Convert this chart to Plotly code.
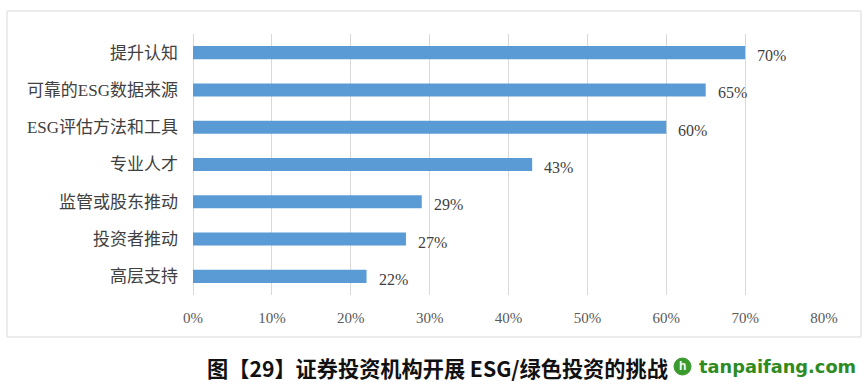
import plotly.graph_objects as go

categories = ["提升认知", "可靠的ESG数据来源", "ESG评估方法和工具", "专业人才",
              "监管或股东推动", "投资者推动", "高层支持"]
values = [70, 65, 60, 43, 29, 27, 22]
tick_vals = [0, 10, 20, 30, 40, 50, 60, 70, 80]
tick_text = ["0%", "10%", "20%", "30%", "40%", "50%", "60%", "70%", "80%"]
title_text = "图【29】证券投资机构开展 ESG/绿色投资的挑战"
watermark = "tanpaifang.com"

W, H = 866, 386
L, R, T, B = 193, 42, 34, 91
pw, ph = W - L - R, H - T - B

def px(x):
    return (x - L) / pw

def py(y):
    return (H - B - y) / ph

font_fam = "Liberation Serif, Noto Sans CJK SC"

fig = go.Figure()
fig.add_trace(go.Bar(
    x=values, y=categories, orientation="h",
    marker=dict(color="#5B9BD5", line=dict(width=0)),
    hoverinfo="skip",
))

for v, c in zip(values, categories):
    fig.add_annotation(x=v, y=c, xref="x", yref="y", text=f"{v}%",
                       showarrow=False, xanchor="left", xshift=10, yshift=-3,
                       font=dict(family=font_fam, size=16, color="#404040"))

fig.update_layout(
    width=W, height=H,
    margin=dict(l=L, r=R, t=T, b=B),
    paper_bgcolor="white", plot_bgcolor="white",
    bargap=0.65, showlegend=False,
    xaxis=dict(range=[0, 80], tickvals=tick_vals, ticktext=tick_text,
               showgrid=True, gridcolor="#D9D9D9", gridwidth=1,
               zeroline=True, zerolinecolor="#D9D9D9", zerolinewidth=1,
               showline=False, ticks="", ticklabelstandoff=12,
               tickfont=dict(family=font_fam, size=15, color="#595959"),
               fixedrange=True),
    yaxis=dict(autorange="reversed", showgrid=False, showline=False, ticks="",
               ticklabelstandoff=14,
               tickfont=dict(family=font_fam, size=17, color="#404040"),
               fixedrange=True),
)

# outer frame
fig.add_shape(type="rect", xref="paper", yref="paper",
              x0=px(7), x1=px(861), y0=py(337), y1=py(11),
              line=dict(color="#D9D9D9", width=1), fillcolor="rgba(0,0,0,0)")

# caption
fig.add_annotation(xref="paper", yref="paper", x=px(437), y=py(367),
                   text=f"<b>{title_text}</b>", showarrow=False,
                   xanchor="center", yanchor="middle",
                   font=dict(family="Noto Sans CJK SC", size=21.2, color="#111111"))

# watermark logo + text
fig.add_shape(type="circle", xref="paper", yref="paper",
              x0=px(674), x1=px(691), y0=py(375), y1=py(358),
              line=dict(color="#3A9A2E", width=1), fillcolor="#3A9A2E")
fig.add_annotation(xref="paper", yref="paper", x=px(682.5), y=py(366.5),
                   text="<b>h</b>", showarrow=False, xanchor="center", yanchor="middle",
                   font=dict(family="Liberation Sans", size=12, color="white"))
fig.add_annotation(xref="paper", yref="paper", x=px(697), y=py(366),
                   text=f"<b>{watermark}</b>", showarrow=False,
                   xanchor="left", yanchor="middle",
                   font=dict(family="DejaVu Sans", size=17.8, color="#2E8B22"))

fig.write_html("out.html", config={"displayModeBar": False},
               post_script="document.body.style.margin='0';")
